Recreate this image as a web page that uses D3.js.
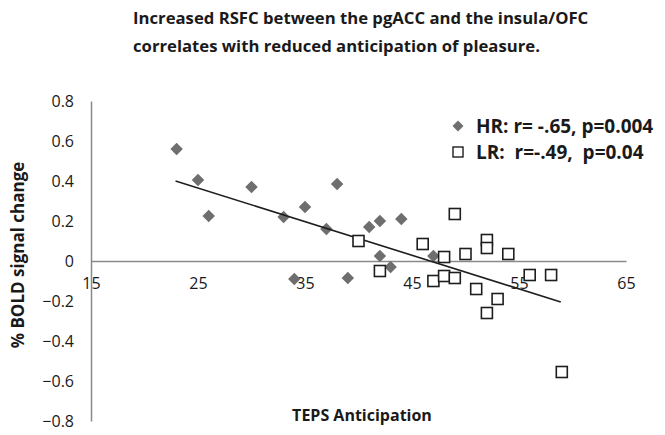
<!DOCTYPE html>
<html>
<head>
<meta charset="utf-8">
<script src="https://cdn.jsdelivr.net/npm/d3@7"></script>
<style>
  body { margin: 0; background: #fff; }
  text { font-family: "Open Sans", "Noto Sans", sans-serif; fill: #1a1a1a; }
  .bold { font-weight: bold; }
</style>
</head>
<body>
<div id="chart"></div>
<script>
// HR group (grey diamonds)
const hrX = [23, 25, 26, 30, 33, 34, 35, 37, 38, 39, 41, 42, 42, 43, 44, 47];
const hrY = [0.56, 0.405, 0.225, 0.37, 0.22, -0.09, 0.27, 0.16, 0.385, -0.085, 0.17, 0.2, 0.025, -0.03, 0.21, 0.025];

// LR group (open squares)
const lrX = [40, 42, 46, 47, 48, 48, 49, 49, 50, 51, 52, 52, 52, 53, 54, 56, 58, 59];
const lrY = [0.10, -0.05, 0.085, -0.10, 0.02, -0.075, 0.235, -0.085, 0.035, -0.14, 0.105, 0.065, -0.26, -0.19, 0.035, -0.07, -0.07, -0.555];

// fitted line endpoints
const trendX = [22.9, 58.9];
const trendY = [0.40, -0.205];

const xTicks = [15, 25, 35, 45, 55, 65];
const yTicks = [-0.8, -0.6, -0.4, -0.2, 0, 0.2, 0.4, 0.6, 0.8];

const titleLines = [
  "Increased RSFC between the pgACC and the insula/OFC",
  "correlates with reduced anticipation of pleasure."
];
const legendItems = ["HR: r= -.65, p=0.004", "LR:  r=-.49,  p=0.04"];

const W = 665, H = 435;
const svg = d3.select("#chart").append("svg")
  .attr("width", W).attr("height", H);

const x = d3.scaleLinear().domain([15, 65]).range([91, 626]);
const y = d3.scaleLinear().domain([-0.8, 0.8]).range([421, 101]);

// title
svg.selectAll(".title").data(titleLines).enter().append("text")
  .attr("class", "title bold")
  .attr("x", 133)
  .attr("y", (d, i) => 24 + i * 28)
  .style("font-size", "16.7px")
  .text(d => d);

// y axis
const yAxis = d3.axisLeft(y).tickValues(yTicks).tickSize(0).tickPadding(17)
  .tickFormat(d => d === 0 ? "0" : d3.format(".1f")(d));
svg.append("g").attr("transform", "translate(" + x(15) + ",0)").call(yAxis)
  .call(g => g.select(".domain").attr("stroke", "#8a8a8a").attr("stroke-width", 1.5));

// x axis at y=0, labels below
const xAxis = d3.axisBottom(x).tickValues(xTicks).tickSize(0).tickPadding(17);
svg.append("g").attr("transform", "translate(0," + y(0) + ")").call(xAxis)
  .call(g => g.select(".domain").attr("stroke", "#8a8a8a").attr("stroke-width", 1.5));

svg.selectAll(".tick text").style("font-size", "16px")
  .style("font-family", "'Open Sans', sans-serif").attr("fill", "#1a1a1a");

// axis titles
svg.append("text").attr("class", "bold")
  .attr("transform", "translate(24,255) rotate(-90)")
  .attr("text-anchor", "middle")
  .style("font-size", "17px")
  .text("% BOLD signal change");

svg.append("text").attr("class", "bold")
  .attr("x", 362).attr("y", 421)
  .attr("text-anchor", "middle")
  .style("font-size", "16px")
  .text("TEPS Anticipation");

const diamond = d3.symbol().type(d3.symbolSquare).size(78);

// HR diamonds
svg.selectAll(".hr").data(hrX).enter().append("path")
  .attr("class", "hr")
  .attr("d", diamond)
  .attr("transform", (d, i) => "translate(" + x(d) + "," + y(hrY[i]) + ") rotate(45)")
  .attr("fill", "#6e6e6e");

// trend line
svg.append("line")
  .attr("x1", x(trendX[0])).attr("y1", y(trendY[0]))
  .attr("x2", x(trendX[1])).attr("y2", y(trendY[1]))
  .attr("stroke", "#1e1e1e").attr("stroke-width", 1.6);

// LR squares
svg.selectAll(".lr").data(lrX).enter().append("rect")
  .attr("class", "lr")
  .attr("x", d => x(d) - 5.5)
  .attr("y", (d, i) => y(lrY[i]) - 5.5)
  .attr("width", 11).attr("height", 11)
  .attr("fill", "#fff")
  .attr("stroke", "#1e1e1e").attr("stroke-width", 1.6);

// legend
const leg = svg.append("g");
leg.append("path").attr("d", d3.symbol().type(d3.symbolSquare).size(60))
  .attr("transform", "translate(458,126) rotate(45)")
  .attr("fill", "#6e6e6e");
leg.append("rect").attr("x", 453).attr("y", 147).attr("width", 10).attr("height", 10)
  .attr("fill", "#fff").attr("stroke", "#1e1e1e").attr("stroke-width", 1.4);
leg.selectAll(".lt").data(legendItems).enter().append("text")
  .attr("class", "lt bold")
  .attr("x", 476)
  .attr("y", (d, i) => 133 + i * 26)
  .style("font-size", "19px")
  .attr("xml:space", "preserve")
  .style("white-space", "pre")
  .text(d => d);
</script>
</body>
</html>
